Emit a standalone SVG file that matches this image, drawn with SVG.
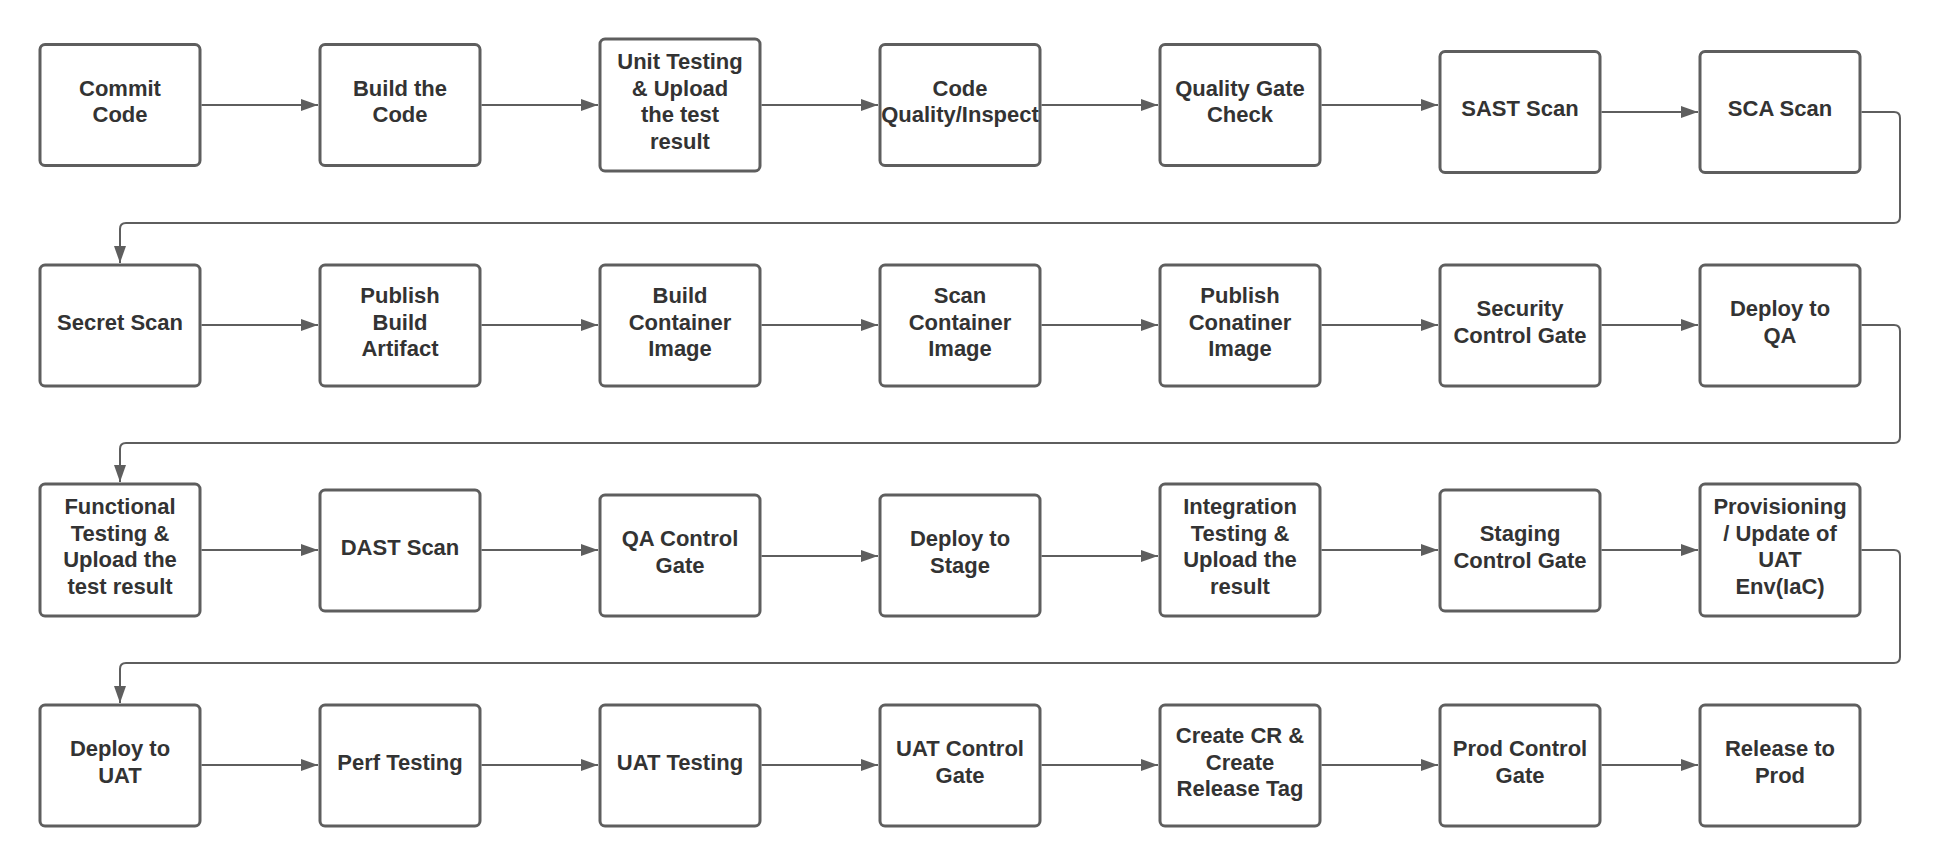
<svg xmlns="http://www.w3.org/2000/svg" width="1942" height="865" viewBox="0 0 1942 865">
<defs>
<style>
.box{fill:#ffffff;stroke:#5e5e5e;stroke-width:3}
.lbl{font-family:"Liberation Sans",Arial,sans-serif;font-size:22px;font-weight:bold;fill:#333333;text-anchor:middle}
.cn{fill:none;stroke:#5e5e5e;stroke-width:2}
</style>
<marker id="ah" markerWidth="17" markerHeight="12" refX="17" refY="6" orient="auto" markerUnits="userSpaceOnUse">
<path d="M0,0 L17,6 L0,12 Z" fill="#5e5e5e"/>
</marker>
</defs>
<rect width="1942" height="865" fill="#ffffff"/>

<g id="connectors">
<path class="cn" marker-end="url(#ah)" d="M201.5 105 H318"/>
<path class="cn" marker-end="url(#ah)" d="M481.5 105 H598"/>
<path class="cn" marker-end="url(#ah)" d="M761.5 105 H878"/>
<path class="cn" marker-end="url(#ah)" d="M1041.5 105 H1158"/>
<path class="cn" marker-end="url(#ah)" d="M1321.5 105 H1438"/>
<path class="cn" marker-end="url(#ah)" d="M1601.5 112 H1698"/>
<path class="cn" marker-end="url(#ah)" d="M1861.5 112 H1894 Q1900 112 1900 118 V217 Q1900 223 1894 223 H126 Q120 223 120 229 V263"/>

<path class="cn" marker-end="url(#ah)" d="M201.5 325 H318"/>
<path class="cn" marker-end="url(#ah)" d="M481.5 325 H598"/>
<path class="cn" marker-end="url(#ah)" d="M761.5 325 H878"/>
<path class="cn" marker-end="url(#ah)" d="M1041.5 325 H1158"/>
<path class="cn" marker-end="url(#ah)" d="M1321.5 325 H1438"/>
<path class="cn" marker-end="url(#ah)" d="M1601.5 325 H1698"/>
<path class="cn" marker-end="url(#ah)" d="M1861.5 325 H1894 Q1900 325 1900 331 V437 Q1900 443 1894 443 H126 Q120 443 120 449 V482"/>

<path class="cn" marker-end="url(#ah)" d="M201.5 550 H318"/>
<path class="cn" marker-end="url(#ah)" d="M481.5 550 H598"/>
<path class="cn" marker-end="url(#ah)" d="M761.5 556 H878"/>
<path class="cn" marker-end="url(#ah)" d="M1041.5 556 H1158"/>
<path class="cn" marker-end="url(#ah)" d="M1321.5 550 H1438"/>
<path class="cn" marker-end="url(#ah)" d="M1601.5 550 H1698"/>
<path class="cn" marker-end="url(#ah)" d="M1861.5 550 H1894 Q1900 550 1900 556 V657 Q1900 663 1894 663 H126 Q120 663 120 669 V703"/>

<path class="cn" marker-end="url(#ah)" d="M201.5 765 H318"/>
<path class="cn" marker-end="url(#ah)" d="M481.5 765 H598"/>
<path class="cn" marker-end="url(#ah)" d="M761.5 765 H878"/>
<path class="cn" marker-end="url(#ah)" d="M1041.5 765 H1158"/>
<path class="cn" marker-end="url(#ah)" d="M1321.5 765 H1438"/>
<path class="cn" marker-end="url(#ah)" d="M1601.5 765 H1698"/>
</g>

<!-- Row 1 -->
<g id="commit-code"><rect class="box" x="40" y="44.5" width="160" height="121" rx="5"/>
<text class="lbl"><tspan x="120" y="95.75">Commit</tspan><tspan x="120" y="122.25">Code</tspan></text></g>
<g id="build-code"><rect class="box" x="320" y="44.5" width="160" height="121" rx="5"/>
<text class="lbl"><tspan x="400" y="95.75">Build the</tspan><tspan x="400" y="122.25">Code</tspan></text></g>
<g id="unit-testing"><rect class="box" x="600" y="39" width="160" height="132" rx="5"/>
<text class="lbl"><tspan x="680" y="69.25">Unit Testing</tspan><tspan x="680" y="95.75">&amp; Upload</tspan><tspan x="680" y="122.25">the test</tspan><tspan x="680" y="148.75">result</tspan></text></g>
<g id="code-quality"><rect class="box" x="880" y="44.5" width="160" height="121" rx="5"/>
<text class="lbl"><tspan x="960" y="95.75">Code</tspan><tspan x="960" y="122.25">Quality/Inspect</tspan></text></g>
<g id="quality-gate"><rect class="box" x="1160" y="44.5" width="160" height="121" rx="5"/>
<text class="lbl"><tspan x="1240" y="95.75">Quality Gate</tspan><tspan x="1240" y="122.25">Check</tspan></text></g>
<g id="sast-scan"><rect class="box" x="1440" y="51.5" width="160" height="121" rx="5"/>
<text class="lbl"><tspan x="1520" y="116">SAST Scan</tspan></text></g>
<g id="sca-scan"><rect class="box" x="1700" y="51.5" width="160" height="121" rx="5"/>
<text class="lbl"><tspan x="1780" y="116">SCA Scan</tspan></text></g>

<!-- Row 2 -->
<g id="secret-scan"><rect class="box" x="40" y="265" width="160" height="121" rx="5"/>
<text class="lbl"><tspan x="120" y="329.5">Secret Scan</tspan></text></g>
<g id="publish-build-artifact"><rect class="box" x="320" y="265" width="160" height="121" rx="5"/>
<text class="lbl"><tspan x="400" y="303">Publish</tspan><tspan x="400" y="329.5">Build</tspan><tspan x="400" y="356">Artifact</tspan></text></g>
<g id="build-container-image"><rect class="box" x="600" y="265" width="160" height="121" rx="5"/>
<text class="lbl"><tspan x="680" y="303">Build</tspan><tspan x="680" y="329.5">Container</tspan><tspan x="680" y="356">Image</tspan></text></g>
<g id="scan-container-image"><rect class="box" x="880" y="265" width="160" height="121" rx="5"/>
<text class="lbl"><tspan x="960" y="303">Scan</tspan><tspan x="960" y="329.5">Container</tspan><tspan x="960" y="356">Image</tspan></text></g>
<g id="publish-container-image"><rect class="box" x="1160" y="265" width="160" height="121" rx="5"/>
<text class="lbl"><tspan x="1240" y="303">Publish</tspan><tspan x="1240" y="329.5">Conatiner</tspan><tspan x="1240" y="356">Image</tspan></text></g>
<g id="security-control-gate"><rect class="box" x="1440" y="265" width="160" height="121" rx="5"/>
<text class="lbl"><tspan x="1520" y="316.25">Security</tspan><tspan x="1520" y="342.75">Control Gate</tspan></text></g>
<g id="deploy-qa"><rect class="box" x="1700" y="265" width="160" height="121" rx="5"/>
<text class="lbl"><tspan x="1780" y="316.25">Deploy to</tspan><tspan x="1780" y="342.75">QA</tspan></text></g>

<!-- Row 3 -->
<g id="functional-testing"><rect class="box" x="40" y="484" width="160" height="132" rx="5"/>
<text class="lbl"><tspan x="120" y="514.25">Functional</tspan><tspan x="120" y="540.75">Testing &amp;</tspan><tspan x="120" y="567.25">Upload the</tspan><tspan x="120" y="593.75">test result</tspan></text></g>
<g id="dast-scan"><rect class="box" x="320" y="490" width="160" height="121" rx="5"/>
<text class="lbl"><tspan x="400" y="554.5">DAST Scan</tspan></text></g>
<g id="qa-control-gate"><rect class="box" x="600" y="495" width="160" height="121" rx="5"/>
<text class="lbl"><tspan x="680" y="546.25">QA Control</tspan><tspan x="680" y="572.75">Gate</tspan></text></g>
<g id="deploy-stage"><rect class="box" x="880" y="495" width="160" height="121" rx="5"/>
<text class="lbl"><tspan x="960" y="546.25">Deploy to</tspan><tspan x="960" y="572.75">Stage</tspan></text></g>
<g id="integration-testing"><rect class="box" x="1160" y="484" width="160" height="132" rx="5"/>
<text class="lbl"><tspan x="1240" y="514.25">Integration</tspan><tspan x="1240" y="540.75">Testing &amp;</tspan><tspan x="1240" y="567.25">Upload the</tspan><tspan x="1240" y="593.75">result</tspan></text></g>
<g id="staging-control-gate"><rect class="box" x="1440" y="490" width="160" height="121" rx="5"/>
<text class="lbl"><tspan x="1520" y="541.25">Staging</tspan><tspan x="1520" y="567.75">Control Gate</tspan></text></g>
<g id="provisioning-uat"><rect class="box" x="1700" y="484" width="160" height="132" rx="5"/>
<text class="lbl"><tspan x="1780" y="514.25">Provisioning</tspan><tspan x="1780" y="540.75">/ Update of</tspan><tspan x="1780" y="567.25">UAT</tspan><tspan x="1780" y="593.75">Env(IaC)</tspan></text></g>

<!-- Row 4 -->
<g id="deploy-uat"><rect class="box" x="40" y="705" width="160" height="121" rx="5"/>
<text class="lbl"><tspan x="120" y="756.25">Deploy to</tspan><tspan x="120" y="782.75">UAT</tspan></text></g>
<g id="perf-testing"><rect class="box" x="320" y="705" width="160" height="121" rx="5"/>
<text class="lbl"><tspan x="400" y="769.5">Perf Testing</tspan></text></g>
<g id="uat-testing"><rect class="box" x="600" y="705" width="160" height="121" rx="5"/>
<text class="lbl"><tspan x="680" y="769.5">UAT Testing</tspan></text></g>
<g id="uat-control-gate"><rect class="box" x="880" y="705" width="160" height="121" rx="5"/>
<text class="lbl"><tspan x="960" y="756.25">UAT Control</tspan><tspan x="960" y="782.75">Gate</tspan></text></g>
<g id="create-cr"><rect class="box" x="1160" y="705" width="160" height="121" rx="5"/>
<text class="lbl"><tspan x="1240" y="743">Create CR &amp;</tspan><tspan x="1240" y="769.5">Create</tspan><tspan x="1240" y="796">Release Tag</tspan></text></g>
<g id="prod-control-gate"><rect class="box" x="1440" y="705" width="160" height="121" rx="5"/>
<text class="lbl"><tspan x="1520" y="756.25">Prod Control</tspan><tspan x="1520" y="782.75">Gate</tspan></text></g>
<g id="release-prod"><rect class="box" x="1700" y="705" width="160" height="121" rx="5"/>
<text class="lbl"><tspan x="1780" y="756.25">Release to</tspan><tspan x="1780" y="782.75">Prod</tspan></text></g>
</svg>
